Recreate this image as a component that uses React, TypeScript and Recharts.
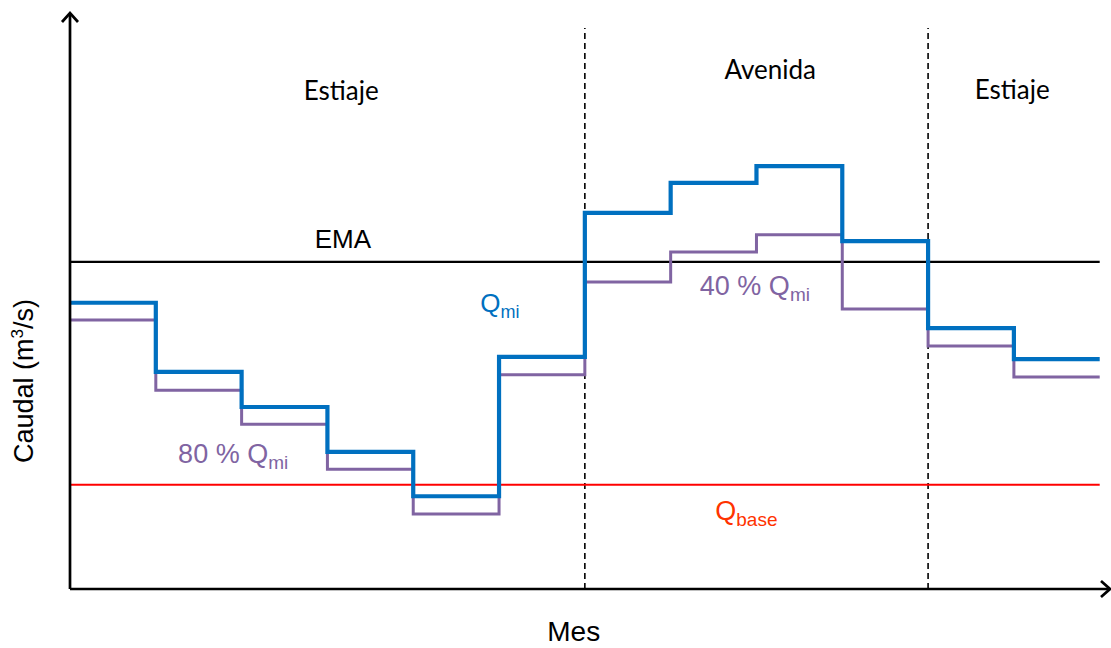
import React from 'react';
import { LineChart, Line, XAxis, YAxis, ReferenceLine, ReferenceDot } from 'recharts';

// Months (start index of each monthly step)
const monthIndex = [0, 1, 2, 3, 4, 5, 6, 7, 8, 9, 10, 11];
// Q_mi (blue)
const qmiValues = [49.7, 37.7, 31.6, 23.8, 16.1, 40.3, 65.3, 70.5, 73.4, 60.4, 45.3, 39.9];
// 80 % / 40 % Q_mi (purple)
const reducedValues = [46.7, 34.5, 28.6, 20.8, 13.0, 37.2, 53.3, 58.5, 61.5, 48.6, 42.2, 36.8];
const emaValue = 56.8;
const qbaseValue = 18.1;
const seasonBoundaries = [6, 10];
const seasonLabels = ['Estiaje', 'Avenida', 'Estiaje'];

const data = [
  ...monthIndex.map((m, i) => ({ mes: m, qmi: qmiValues[i], red: reducedValues[i] })),
  { mes: monthIndex.length, qmi: qmiValues[qmiValues.length - 1], red: reducedValues[reducedValues.length - 1] },
];

const ARIAL = '"Liberation Sans", Arial, sans-serif';
const CALIBRI = 'Lato, "Open Sans", sans-serif';
const BLUE = '#0070C0';
const PURPLE = '#8064A2';

const upArrow = (p: any) => (
  <path d={`M${p.cx - 8},${p.cy + 9} L${p.cx},${p.cy} L${p.cx + 8},${p.cy + 9}`} stroke="#000" strokeWidth={2.7} fill="none" />
);
const rightArrow = (p: any) => (
  <path d={`M${p.cx - 9},${p.cy - 8} L${p.cx},${p.cy} L${p.cx - 9},${p.cy + 8}`} stroke="#000" strokeWidth={2.7} fill="none" />
);

const plainText = (txt: string, size: number, family: string, color: string, anchor: string = 'middle') => (p: any) => (
  <text x={p.cx} y={p.cy} fontSize={size} fontFamily={family} fill={color} textAnchor={anchor}>{txt}</text>
);

const subText = (main: string, sub: string, size: number, subSize: number, color: string) => (p: any) => (
  <text x={p.cx} y={p.cy} fontSize={size} fontFamily={ARIAL} fill={color} textAnchor="start">
    {main}
    <tspan fontSize={subSize} dy={6}>{sub}</tspan>
  </text>
);

const yLabel = (p: any) => (
  <text x={p.cx} y={p.cy} fontSize={27} fontFamily={ARIAL} fill="#000" textAnchor="middle" transform={`rotate(-90 ${p.cx} ${p.cy})`}>
    Caudal (m
    <tspan fontSize={17} dy={-10}>3</tspan>
    <tspan fontSize={27} dy={10}>/s)</tspan>
  </text>
);

export default function App() {
  return (
    <div style={{ position: 'absolute', left: 0, top: 0, width: 1111, height: 648, background: '#fff' }}>
      <LineChart width={1111} height={648} data={data} margin={{ top: 13, right: 1, left: 0, bottom: 0 }}>
        <XAxis
          dataKey="mes"
          type="number"
          domain={[0, 12.12]}
          ticks={[]}
          tick={false}
          tickLine={false}
          axisLine={{ stroke: '#000', strokeWidth: 2.7 }}
          height={59}
        />
        <YAxis
          type="number"
          domain={[0, 100]}
          ticks={[]}
          tick={false}
          tickLine={false}
          axisLine={{ stroke: '#000', strokeWidth: 2.7 }}
          width={70}
        />
        {seasonBoundaries.map((b) => (
          <ReferenceLine
            key={b}
            segment={[{ x: b, y: 0 }, { x: b, y: 97.4 }]}
            stroke="#000"
            strokeWidth={1.6}
            strokeDasharray="6 4"
            ifOverflow="visible"
          />
        ))}
        <ReferenceLine segment={[{ x: 0, y: emaValue }, { x: 12, y: emaValue }]} stroke="#000" strokeWidth={2.2} ifOverflow="visible" />
        <ReferenceLine segment={[{ x: 0, y: qbaseValue }, { x: 12, y: qbaseValue }]} stroke="#FF0000" strokeWidth={2} ifOverflow="visible" />
        <Line type="stepAfter" dataKey="red" stroke={PURPLE} strokeWidth={3} dot={false} isAnimationActive={false} />
        <Line type="stepAfter" dataKey="qmi" stroke={BLUE} strokeWidth={4.2} dot={false} isAnimationActive={false} />

        <ReferenceDot x={0} y={100} ifOverflow="visible" shape={upArrow} />
        <ReferenceDot x={12.12} y={0} ifOverflow="visible" shape={rightArrow} />

        <ReferenceDot x={3.16} y={84.9} ifOverflow="visible" shape={plainText(seasonLabels[0], 26, CALIBRI, '#000')} />
        <ReferenceDot x={8.16} y={88.5} ifOverflow="visible" shape={plainText(seasonLabels[1], 26, CALIBRI, '#000')} />
        <ReferenceDot x={10.98} y={85.1} ifOverflow="visible" shape={plainText(seasonLabels[2], 26, CALIBRI, '#000')} />
        <ReferenceDot x={3.18} y={59.2} ifOverflow="visible" shape={plainText('EMA', 26, ARIAL, '#000')} />
        <ReferenceDot x={4.78} y={48.1} ifOverflow="visible" shape={subText('Q', 'mi', 26, 18, BLUE)} />
        <ReferenceDot x={7.34} y={51.0} ifOverflow="visible" shape={subText('40 % Q', 'mi', 27, 19, PURPLE)} />
        <ReferenceDot x={1.26} y={21.9} ifOverflow="visible" shape={subText('80 % Q', 'mi', 27, 19, PURPLE)} />
        <ReferenceDot x={7.52} y={12.0} ifOverflow="visible" shape={subText('Q', 'base', 27, 19, '#FF3300')} />
        <ReferenceDot x={5.87} y={-9.0} ifOverflow="visible" shape={plainText('Mes', 28, ARIAL, '#000')} />
        <ReferenceDot x={-0.43} y={36.1} ifOverflow="visible" shape={yLabel} />
      </LineChart>
    </div>
  );
}
